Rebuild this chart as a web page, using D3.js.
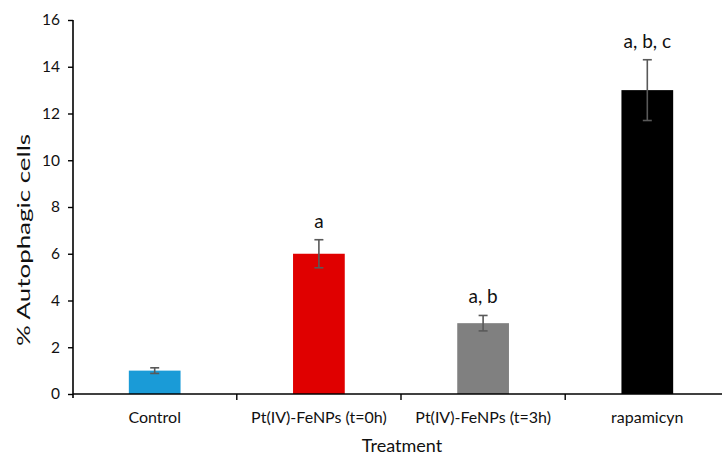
<!DOCTYPE html>
<html><head><meta charset="utf-8">
<script src="https://cdn.jsdelivr.net/npm/d3@7"></script>
<style>body{margin:0;background:#fff}svg{display:block}text{font-family:Lato,"Open Sans",sans-serif;fill:#111}</style>
</head><body><svg id="c" width="722" height="455"></svg>
<script>
const categories = ["Control","Pt(IV)-FeNPs (t=0h)","Pt(IV)-FeNPs (t=3h)","rapamicyn"];
const values = [1.0, 6.0, 3.03, 13.0];
const errors = [0.12, 0.6, 0.33, 1.3];
const annotations = ["", "a", "a, b", "a, b, c"];
const colors = ["#1a9bd7","#e00000","#808080","#000000"];
const yTicks = [0,2,4,6,8,10,12,14,16];

(function(){
const svg = d3.select("#c");
const pL = 73, pR = 729, pT = 20, pB = 394;
const x = d3.scaleBand().domain(categories).range([pL, pR]).paddingInner(0.685).paddingOuter(0.34);
const y = d3.scaleLinear().domain([0,16]).range([pB, pT]);

svg.selectAll("rect.bar").data(categories).join("rect")
  .attr("x", d => x(d)).attr("width", x.bandwidth())
  .attr("y", (d,i) => y(values[i])).attr("height", (d,i) => pB - y(values[i]))
  .attr("fill", (d,i) => colors[i]);

const eg = svg.append("g").attr("stroke", "#595959").attr("stroke-width", 1.6);
categories.forEach((c,i) => {
  const cx = x(c) + x.bandwidth()/2;
  eg.append("line").attr("x1", cx).attr("x2", cx).attr("y1", y(values[i]+errors[i])).attr("y2", y(values[i]-errors[i]));
  [values[i]+errors[i], values[i]-errors[i]].forEach(v => {
    eg.append("line").attr("x1", cx-4.5).attr("x2", cx+4.5).attr("y1", y(v)).attr("y2", y(v));
  });
  if (annotations[i]) {
    svg.append("text").attr("x", cx).attr("y", y(values[i]+errors[i]) - 12)
      .attr("text-anchor", "middle").attr("font-size", 19).text(annotations[i]);
  }
});

const ya = svg.append("g").attr("transform", `translate(${pL},0)`)
  .call(d3.axisLeft(y).tickValues(yTicks).tickSize(5).tickPadding(8));
ya.select(".domain").attr("stroke", "#000").attr("stroke-width", 1.6).attr("d", `M0,${pT}V${pB+4}`);
ya.selectAll(".tick line").attr("stroke", "#000").attr("stroke-width", 1.4);
ya.selectAll(".tick text").attr("font-size", 15.5).attr("font-family", "Lato,'Open Sans',sans-serif").attr("fill", "#111");

const xa = svg.append("g").attr("transform", `translate(0,${pB})`)
  .call(d3.axisBottom(x).tickSize(0).tickPadding(18));
xa.select(".domain").attr("stroke", "#000").attr("stroke-width", 1.6).attr("d", `M${pL},0H${pR}`);
xa.selectAll(".tick text").attr("font-size", 16).attr("font-family", "Lato,'Open Sans',sans-serif").attr("fill", "#111");
const step = x.step();
for (let k = 1; k < categories.length; k++) {
  const bx = x(categories[k]) - (step - x.bandwidth())/2;
  xa.append("line").attr("x1", bx).attr("x2", bx).attr("y1", 0).attr("y2", 6).attr("stroke", "#000").attr("stroke-width", 1.4);
}

svg.append("text").attr("x", 402).attr("y", 452).attr("text-anchor", "middle").attr("font-size", 18).text("Treatment");
svg.append("text").attr("transform", "translate(30,240) rotate(-90)").attr("text-anchor", "middle")
  .attr("font-size", 16.5).attr("textLength", 212).attr("lengthAdjust", "spacingAndGlyphs").text("% Autophagic cells");
})();
</script></body></html>
